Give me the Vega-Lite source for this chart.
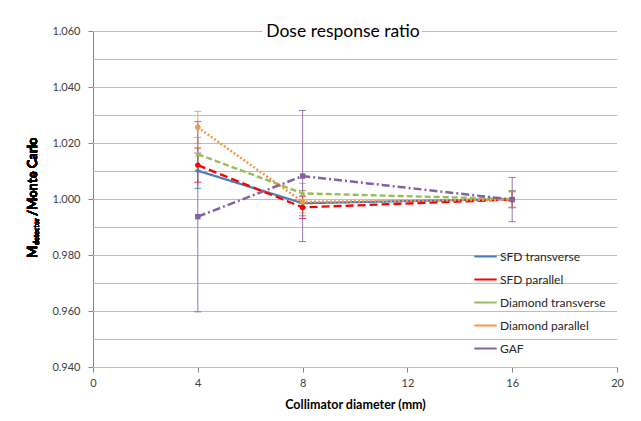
{
  "$schema": "https://vega.github.io/schema/vega-lite/v6.json",
  "width": 524,
  "height": 336,
  "autosize": {"type": "none"},
  "padding": {"left": 93, "top": 31, "right": 24, "bottom": 54},
  "background": "white",
  "title": {"text": "Dose response ratio", "font": "Lato", "fontSize": 17.5, "fontWeight": "normal", "color": "#000000", "anchor": "middle", "baseline": "middle", "offset": -24, "dx": -12},
  "config": {"view": {"stroke": null}, "font": "Lato"},
  "resolve": {"scale": {"color": "independent"}, "legend": {"color": "independent"}},
  "data": {"values": [
    {"series": "SFD transverse", "x": 4, "y": 1.0101, "lo": 1.0038, "hi": 1.0164},
    {"series": "SFD transverse", "x": 8, "y": 0.9985, "lo": 0.9940, "hi": 1.0030},
    {"series": "SFD transverse", "x": 16, "y": 1.0000, "lo": 0.9970, "hi": 1.0030},
    {"series": "SFD parallel", "x": 4, "y": 1.0121, "lo": 1.0060, "hi": 1.0182},
    {"series": "SFD parallel", "x": 8, "y": 0.9970, "lo": 0.9930, "hi": 1.0010},
    {"series": "SFD parallel", "x": 16, "y": 0.9998, "lo": 0.9970, "hi": 1.0026},
    {"series": "Diamond transverse", "x": 4, "y": 1.0160, "lo": 1.0100, "hi": 1.0220},
    {"series": "Diamond transverse", "x": 8, "y": 1.0020, "lo": 0.9984, "hi": 1.0056},
    {"series": "Diamond transverse", "x": 16, "y": 1.0000, "lo": 0.9970, "hi": 1.0030},
    {"series": "Diamond parallel", "x": 4, "y": 1.0256, "lo": 1.0199, "hi": 1.0313},
    {"series": "Diamond parallel", "x": 8, "y": 0.9990, "lo": 0.9950, "hi": 1.0030},
    {"series": "Diamond parallel", "x": 16, "y": 0.9998, "lo": 0.9968, "hi": 1.0028},
    {"series": "GAF", "x": 4, "y": 0.9937, "lo": 0.9597, "hi": 1.0277},
    {"series": "GAF", "x": 8, "y": 1.0082, "lo": 0.9848, "hi": 1.0316},
    {"series": "GAF", "x": 16, "y": 0.9998, "lo": 0.9919, "hi": 1.0077}
  ]},
  "layer": [
    {
      "data": {"values": [
        {"g": 0.94}, {"g": 0.95}, {"g": 0.96}, {"g": 0.97}, {"g": 0.98}, {"g": 0.99}, {"g": 1.0},
        {"g": 1.01}, {"g": 1.02}, {"g": 1.03}, {"g": 1.04}, {"g": 1.05}, {"g": 1.06}
      ]},
      "mark": {"type": "rule", "color": "#bcbcbc", "strokeWidth": 1, "yOffset": 0.5},
      "encoding": {
        "x": {"datum": 0, "type": "quantitative",
          "scale": {"domain": [0, 20], "nice": false, "zero": false},
          "axis": {"values": [0, 4, 8, 12, 16, 20], "grid": false, "title": "Collimator diameter (mm)",
            "titleFont": "Lato", "titleFontSize": 12.5, "titleFontWeight": "bold", "titleColor": "#000000", "titlePadding": 10,
            "labelFont": "Lato", "labelFontSize": 11, "labelColor": "#404040", "labelPadding": 5,
            "domainColor": "#868686", "tickColor": "#868686", "tickSize": 5, "labelFlush": false}},
        "x2": {"datum": 20},
        "y": {"field": "g", "type": "quantitative", "title": null,
          "scale": {"domain": [0.94, 1.06], "nice": false, "zero": false},
          "axis": {"values": [0.94, 0.96, 0.98, 1.0, 1.02, 1.04, 1.06], "format": ".3f",
            "title": null, "grid": false,
            "labelFont": "Lato", "labelFontSize": 11, "labelColor": "#404040", "labelPadding": 8,
            "domainColor": "#868686", "tickSize": 5, "tickColor": "#868686"}}
      }
    },
    {
      "mark": {"type": "errorbar", "ticks": {"size": 7, "thickness": 1}, "thickness": 1, "opacity": 0.85},
      "encoding": {
        "x": {"field": "x", "type": "quantitative"},
        "y": {"field": "lo", "type": "quantitative"},
        "y2": {"field": "hi"},
        "color": {"field": "series", "type": "nominal", "legend": null,
          "scale": {"domain": ["SFD transverse", "SFD parallel", "Diamond transverse", "Diamond parallel", "GAF"],
            "range": ["#4a7ebb", "#ff0000", "#9bbb59", "#f79646", "#8064a2"]}}
      }
    },
    {
      "mark": {"type": "line"},
      "encoding": {
        "x": {"field": "x", "type": "quantitative"},
        "y": {"field": "y", "type": "quantitative"},
        "color": {"field": "series", "type": "nominal", "title": null,
          "scale": {"domain": ["SFD transverse", "SFD parallel", "Diamond transverse", "Diamond parallel", "GAF"],
            "range": ["#4a7ebb", "#ff0000", "#9bbb59", "#f79646", "#8064a2"]},
          "legend": {"orient": "none", "legendX": 380, "legendY": 213, "symbolType": "stroke", "symbolSize": 500, "symbolStrokeWidth": 2,
            "labelFont": "Lato", "labelFontSize": 12, "labelColor": "#262626", "rowPadding": 4, "padding": 0, "labelOffset": 2, "title": null}},
        "strokeDash": {"field": "series", "type": "nominal", "title": null,
          "scale": {"domain": ["SFD transverse", "SFD parallel", "Diamond transverse", "Diamond parallel", "GAF"],
            "range": [[1, 0], [8, 4], [6, 3], [2, 2], [8, 3, 2, 3]]}},
        "strokeWidth": {"field": "series", "type": "nominal", "title": null,
          "scale": {"domain": ["SFD transverse", "SFD parallel", "Diamond transverse", "Diamond parallel", "GAF"],
            "range": [2.25, 2.5, 2, 1.6, 1.2]}}
      }
    },
    {
      "mark": {"type": "point", "filled": true, "opacity": 1},
      "encoding": {
        "x": {"field": "x", "type": "quantitative"},
        "y": {"field": "y", "type": "quantitative"},
        "color": {"field": "series", "type": "nominal", "legend": null,
          "scale": {"domain": ["SFD transverse", "SFD parallel", "Diamond transverse", "Diamond parallel", "GAF"],
            "range": ["#4a7ebb", "#ff0000", "#9bbb59", "#f79646", "#8064a2"]}},
        "shape": {"field": "series", "type": "nominal", "legend": null,
          "scale": {"domain": ["SFD transverse", "SFD parallel", "Diamond transverse", "Diamond parallel", "GAF"],
            "range": ["diamond", "circle", "triangle-up", "circle", "square"]}},
        "size": {"value": 30}
      }
    },
    {
      "mark": {"type": "rect", "fill": "white", "clip": false},
      "encoding": {"x": {"datum": 6.45}, "x2": {"datum": 12.55}, "y": {"datum": 1.0592}, "y2": {"datum": 1.0608}}
    },
    {
      "mark": {"type": "text", "text": "M", "font": "Lato", "fontSize": 13, "fontWeight": "bold", "angle": 270, "align": "left", "baseline": "alphabetic", "clip": false, "color": "#000000"},
      "encoding": {"x": {"datum": -2.14}, "y": {"datum": 0.97893}}
    },
    {
      "mark": {"type": "text", "text": "detector", "font": "Lato", "fontSize": 7, "fontWeight": "bold", "angle": 270, "align": "left", "baseline": "alphabetic", "clip": false, "color": "#000000"},
      "encoding": {"x": {"datum": -2.06}, "y": {"datum": 0.98357}}
    },
    {
      "mark": {"type": "text", "text": "/Monte Carlo", "font": "Lato", "fontSize": 13, "fontWeight": "bold", "angle": 270, "align": "left", "baseline": "alphabetic", "clip": false, "color": "#000000"},
      "encoding": {"x": {"datum": -2.14}, "y": {"datum": 0.99393}}
    }
  ]
}
